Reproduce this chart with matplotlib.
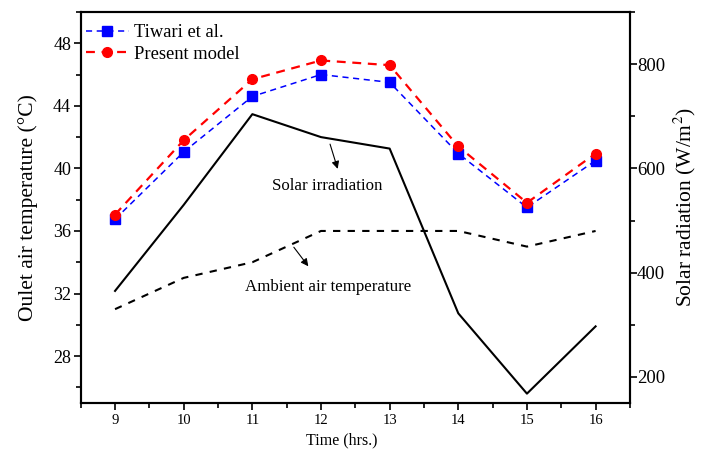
import matplotlib
matplotlib.use('Agg')
import matplotlib.pyplot as plt
from matplotlib.ticker import MultipleLocator

plt.rcParams['font.family'] = ['Liberation Serif', 'DejaVu Serif']
plt.rcParams['mathtext.fontset'] = 'stix'

hours = [9, 10, 11, 12, 13, 14, 15, 16]
tiwari = [36.75, 41.05, 44.6, 46.0, 45.5, 40.95, 37.5, 40.5]
present = [37.05, 41.8, 45.7, 46.9, 46.6, 41.4, 37.8, 40.95]
ambient = [31.0, 33.0, 34.0, 36.0, 36.0, 36.0, 35.0, 36.0]
solar = [365, 530, 704, 660, 638, 322, 168, 297]

fig = plt.figure(figsize=(7.05, 4.5), dpi=100)
ax = fig.add_axes([0.1145, 0.1044, 0.779, 0.869])
ax2 = ax.twinx()

ax.plot(hours, tiwari, ls=(0, (4, 3)), color='#0000ff', lw=1.1, marker='s', ms=6.5,
        label='Tiwari et al.', zorder=4)
ax.plot(hours, present, ls=(0, (4, 3)), color='#ff0000', lw=1.6, marker='o', ms=7,
        label='Present model', zorder=5)
ax.plot(hours, ambient, ls=(0, (3.5, 3.5)), color='k', lw=1.5, zorder=3)
ax2.plot(hours, solar, ls='-', color='k', lw=1.5)

ax.set_xlim(8.5, 16.5)
ax.set_ylim(25, 50)
ax2.set_ylim(150, 900)
ax.set_xticks(hours)
ax.xaxis.set_minor_locator(MultipleLocator(0.5))
ax.set_yticks([28, 32, 36, 40, 44, 48])
ax.yaxis.set_minor_locator(MultipleLocator(2))
ax2.set_yticks([200, 400, 600, 800])
ax2.yaxis.set_minor_locator(MultipleLocator(100))

for a in (ax, ax2):
    a.tick_params(which='major', direction='out', length=5, width=1.2)
    a.tick_params(which='minor', direction='out', length=3.3, width=1.2)
    for s in a.spines.values():
        s.set_linewidth(1.5)
ax.tick_params(axis='y', labelsize=13, pad=2)
ax.tick_params(axis='x', labelsize=10.5, pad=3)
ax2.tick_params(axis='y', labelsize=13.5, pad=0)

ax.set_xlabel('Time (hrs.)', fontsize=11.5)
ax.xaxis.set_label_coords(0.476, -0.075)
ax.set_ylabel('Oulet air temperature (°C)', fontsize=15.5)
ax.yaxis.set_label_coords(-0.078, 0.5)
ax2.set_ylabel('Solar radiation (W/m$^2$)', fontsize=15.5)
ax2.yaxis.set_label_coords(1.077, 0.5)

# annotations with arrows
ax.annotate('', xy=(12.255, 39.8), xytext=(12.12, 41.72),
            arrowprops=dict(arrowstyle='-|>', color='k', lw=0.8, mutation_scale=11))
ax.text(12.09, 38.89, 'Solar irradiation', ha='center', va='center', fontsize=12.2)
ax.annotate('', xy=(11.84, 33.6), xytext=(11.58, 35.1),
            arrowprops=dict(arrowstyle='-|>', color='k', lw=0.8, mutation_scale=11))
ax.text(12.10, 32.4, 'Ambient air temperature', ha='center', va='center', fontsize=12.2)

ax.legend(loc='upper left', bbox_to_anchor=(0.0097, 0.969), frameon=False, fontsize=13.3,
          handlelength=2.3, handletextpad=0.3, borderpad=0, borderaxespad=0,
          labelspacing=0.25)

fig.savefig('out.png', dpi=100)
